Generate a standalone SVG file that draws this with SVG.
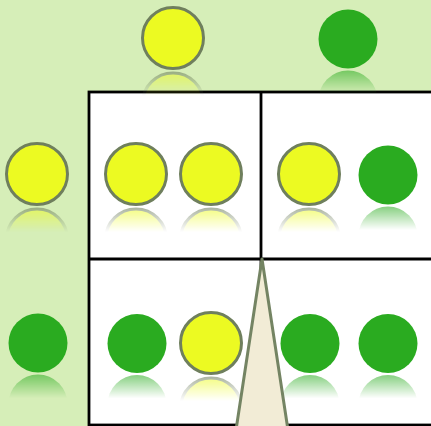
<svg xmlns="http://www.w3.org/2000/svg" width="431" height="426" viewBox="0 0 431 426">
<style>
.yel{fill:#ecfa22;stroke:#6f7f5d;stroke-width:3}
.grn{fill:#2aab20}
.grid{fill:none;stroke:#000;stroke-width:2.8}
</style>
<defs>
<linearGradient id="gY" gradientUnits="userSpaceOnUse" x1="0" y1="33" x2="0" y2="58">
<stop offset="0" stop-color="#fff" stop-opacity="0.6"/>
<stop offset="1" stop-color="#fff" stop-opacity="0"/>
</linearGradient>
<linearGradient id="gG" gradientUnits="userSpaceOnUse" x1="0" y1="30" x2="0" y2="55">
<stop offset="0" stop-color="#fff" stop-opacity="0.6"/>
<stop offset="1" stop-color="#fff" stop-opacity="0"/>
</linearGradient>
<mask id="mY" maskUnits="userSpaceOnUse" maskContentUnits="userSpaceOnUse" x="-40" y="31" width="80" height="30">
<rect x="-40" y="31" width="80" height="30" fill="url(#gY)"/>
</mask>
<mask id="mG" maskUnits="userSpaceOnUse" maskContentUnits="userSpaceOnUse" x="-40" y="28" width="80" height="30">
<rect x="-40" y="28" width="80" height="30" fill="url(#gG)"/>
</mask>
<g id="Y">
<circle cx="0" cy="0" r="30.5" class="yel"/>
<g mask="url(#mY)"><circle cx="0" cy="65.5" r="30.5" class="yel"/></g>
</g>
<g id="G">
<circle cx="0" cy="0" r="29.5" class="grn"/>
<g mask="url(#mG)"><circle cx="0" cy="61" r="29.5" class="grn"/></g>
</g>
</defs>
<rect x="0" y="0" width="431" height="426" fill="#d6eeb8"/>
<g id="grid">
<rect x="89" y="92" width="360" height="333" fill="#fff"/>
<rect x="89" y="92" width="360" height="333" class="grid"/>
<line x1="261" y1="92" x2="261" y2="426" class="grid"/>
<line x1="89" y1="259" x2="431" y2="259" class="grid"/>
</g>
<g id="top-yellow"><use href="#Y" x="173" y="38"/></g>
<g id="top-green"><use href="#G" x="348" y="39"/></g>
<g id="left-yellow"><use href="#Y" x="37" y="174"/></g>
<g id="left-green"><use href="#G" x="38" y="343"/></g>
<g id="cell-tl"><use href="#Y" x="136" y="174"/><use href="#Y" x="211" y="174"/></g>
<g id="cell-tr"><use href="#Y" x="309" y="174"/><use href="#G" x="388" y="175"/></g>
<g id="cell-bl"><use href="#G" x="137" y="343.5"/><use href="#Y" x="211" y="343"/></g>
<g id="cell-br"><use href="#G" x="310" y="343.5"/><use href="#G" x="388" y="343.5"/></g>
<g id="pointer"><polygon points="262,259 236,430 288,430" fill="#f2ecd6" stroke="#748463" stroke-width="3" stroke-linejoin="round"/></g>
</svg>
